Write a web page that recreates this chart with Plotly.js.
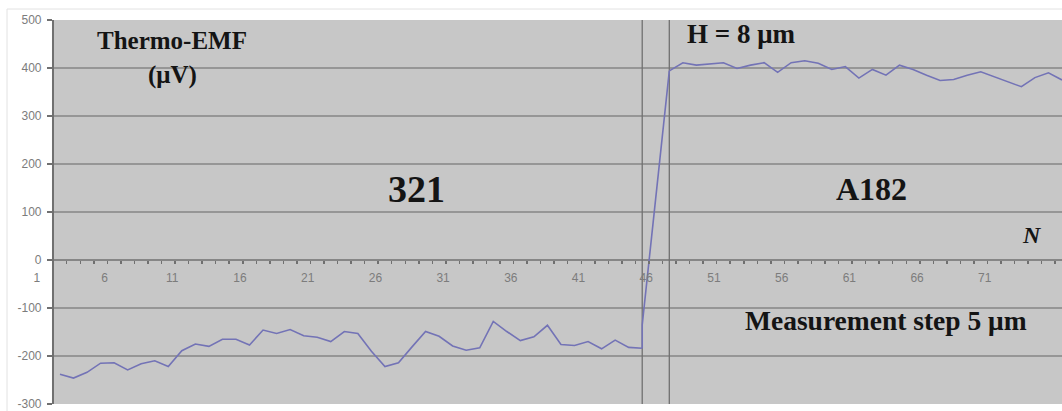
<!DOCTYPE html>
<html>
<head>
<meta charset="utf-8">
<script src="https://cdn.plot.ly/plotly-3.0.1.min.js"></script>
<style>
  html, body { margin: 0; padding: 0; background: #ffffff; }
  #chart { width: 1062px; height: 411px; }
</style>
</head>
<body>
<div id="chart"></div>
<script>
// ---------------- data ----------------
const steel321N = [3, 4, 5, 6, 7, 8, 9, 10, 11, 12, 13, 14, 15, 16, 17, 18, 19, 20, 21, 22, 23, 24,
                   25, 26, 27, 28, 29, 30, 31, 32, 33, 34, 35, 36, 37, 38, 39, 40, 41, 42, 43, 44, 45, 46];
const steel321EMF = [-238, -246, -234, -215, -214, -229, -216, -210, -222, -189, -175, -180, -165, -165,
                     -177, -146, -153, -145, -158, -161, -170, -149, -153, -190, -222, -214, -181, -149,
                     -159, -179, -188, -183, -128, -149, -168, -160, -136, -176, -178, -170, -185, -167,
                     -182, -184];

const transitionN = [46, 46, 48];
const transitionEMF = [-184, -135, 394];

const a182N = [48, 49, 50, 51, 52, 53, 54, 55, 56, 57, 58, 59, 60, 61, 62, 63, 64, 65, 66, 67, 68, 69,
               70, 71, 72, 73, 74, 75, 76, 77];
const a182EMF = [394, 411, 406, 408, 411, 399, 406, 411, 391, 411, 415, 410, 397, 403, 379, 397, 385,
                 406, 397, 385, 374, 376, 385, 392, 382, 372, 361, 380, 390, 375];

const boundaryN = [46, 48];

const xTickVals = [1, 6, 11, 16, 21, 26, 31, 36, 41, 46, 51, 56, 61, 66, 71];
const xTickText = ['1', '6', '11', '16', '21', '26', '31', '36', '41', '46', '51', '56', '61', '66', '71'];
const yTickVals = [-300, -200, -100, 0, 100, 200, 300, 400, 500];
const yTickText = ['-300', '-200', '-100', '0', '100', '200', '300', '400', '500'];

// ---------------- layout constants ----------------
const W = 1062, H = 411;
const xRange = [0.05, 77.0];
const yRange = [-300, 500];
const axisCross = 2.41;            // category where the value axis sits
const xDom = [20 / W, 1];
const yDom = [7 / H, 391 / H];

const yAxisPos = xDom[0] + (axisCross - xRange[0]) / (xRange[1] - xRange[0]) * (xDom[1] - xDom[0]);
const xAxisPos = yDom[0] + (0 - yRange[0]) / (yRange[1] - yRange[0]) * (yDom[1] - yDom[0]);

const lineColor = '#7373b6';
const gridColor = '#868686';
const axisColor = '#707070';
const tickFont = { family: 'Arial, Liberation Sans, sans-serif', size: 12, color: '#7c7c7c' };
const serif = 'Liberation Serif, Times New Roman, serif';

const minorVals = steel321N.concat([47], a182N).map(n => n - 0.5).filter(v => v > axisCross);

const shapes = [];
// chart border
shapes.push({ type: 'rect', xref: 'paper', yref: 'paper', x0: 7 / W, x1: 1.02, y0: -0.05, y1: (H - 9) / H,
  line: { color: '#e2e2e2', width: 1 }, fillcolor: 'rgba(0,0,0,0)', layer: 'below' });
// plot background
shapes.push({ type: 'rect', xref: 'x', yref: 'y', x0: axisCross, x1: xRange[1], y0: yRange[0], y1: yRange[1],
  line: { width: 0 }, fillcolor: '#c7c7c7', layer: 'below' });
// horizontal gridlines
yTickVals.forEach(v => {
  if (v === yRange[0] || v === yRange[1] || v === 0) return;
  shapes.push({ type: 'line', xref: 'x', yref: 'y', x0: axisCross, x1: xRange[1], y0: v, y1: v,
    line: { color: gridColor, width: 1.6 }, layer: 'below' });
});
// category axis line at 0
shapes.push({ type: 'line', xref: 'x', yref: 'y', x0: axisCross, x1: xRange[1], y0: 0, y1: 0,
  line: { color: axisColor, width: 1.6 }, layer: 'below' });
// boundary lines
boundaryN.forEach(n => {
  shapes.push({ type: 'line', xref: 'x', yref: 'y', x0: n, x1: n, y0: yRange[0], y1: yRange[1],
    line: { color: axisColor, width: 1.3 }, layer: 'below' });
});

const lineStyle = { color: lineColor, width: 1.6 };
const traces = [
  { type: 'scatter', mode: 'lines', x: steel321N, y: steel321EMF, line: lineStyle, hoverinfo: 'skip', showlegend: false },
  { type: 'scatter', mode: 'lines', x: transitionN, y: transitionEMF, line: lineStyle, hoverinfo: 'skip', showlegend: false },
  { type: 'scatter', mode: 'lines', x: a182N, y: a182EMF, line: lineStyle, hoverinfo: 'skip', showlegend: false }
];

function label(text, x, y, size, extra) {
  return Object.assign({
    text: '<b>' + text + '</b>', x: x, y: y, xref: 'x', yref: 'y', showarrow: false,
    xanchor: 'center', yanchor: 'middle',
    font: { family: serif, size: size, color: '#141414' }
  }, extra || {});
}

const annotations = [
  label('Thermo-EMF', 11.3, 458, 25),
  label('(\u03bcV)', 11.3, 386, 25),
  label('H = 8 \u03bcm', 53.3, 470, 27),
  label('321', 29.3, 148, 38),
  label('A182', 62.9, 147, 32),
  label('<i>N</i>', 74.8, 52, 24),
  label('Measurement step 5 \u03bcm', 64.0, -126, 27.5)
];

const layout = {
  width: W, height: H,
  margin: { l: 0, r: 0, t: 0, b: 0, pad: 0 },
  paper_bgcolor: '#ffffff',
  plot_bgcolor: 'rgba(0,0,0,0)',
  showlegend: false,
  xaxis: {
    domain: xDom, range: xRange, anchor: 'free', position: xAxisPos,
    showgrid: false, zeroline: false, showline: false,
    tickmode: 'array', tickvals: xTickVals, ticktext: xTickText,
    ticks: '', tickfont: tickFont, ticklabelshift: 4, ticklabelstandoff: 9,
    ticklabeloverflow: 'allow',
    minor: { tickmode: 'array', tickvals: minorVals, ticks: 'outside', ticklen: 3, tickwidth: 1.5,
             tickcolor: axisColor, showgrid: false }
  },
  yaxis: {
    domain: yDom, range: yRange, anchor: 'free', position: yAxisPos,
    showgrid: false, zeroline: false, showline: true, linecolor: axisColor, linewidth: 1.6,
    tickmode: 'array', tickvals: yTickVals, ticktext: yTickText, ticks: 'outside', ticklen: 5, tickwidth: 1.2,
    tickcolor: axisColor, tickfont: tickFont, ticklabelstandoff: 3, ticklabeloverflow: 'allow'
  },
  shapes: shapes,
  annotations: annotations
};

Plotly.newPlot('chart', traces, layout, { staticPlot: true, displayModeBar: false });
</script>
</body>
</html>
